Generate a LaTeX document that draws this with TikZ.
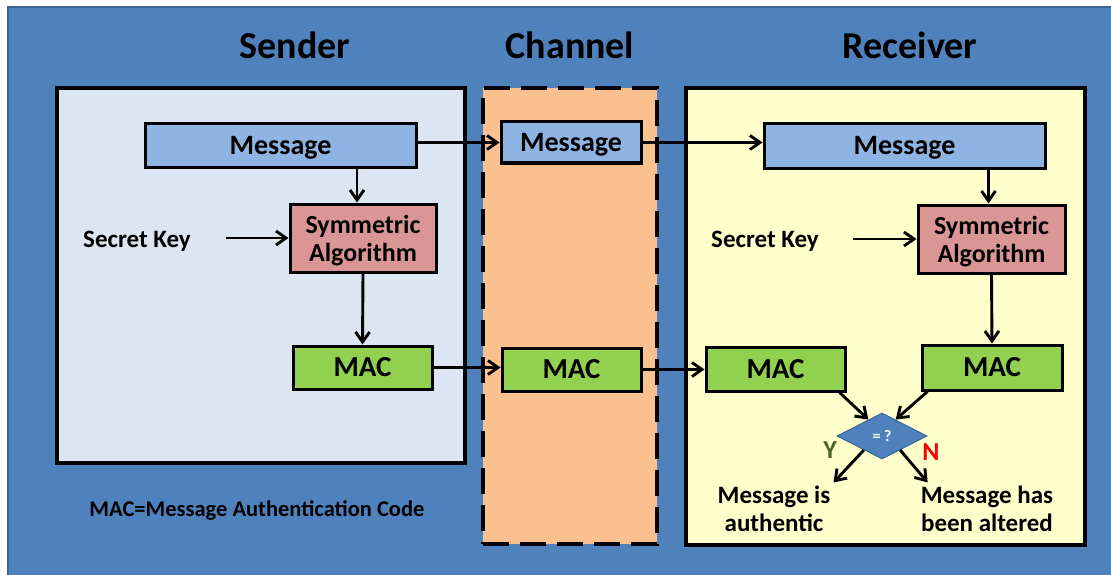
\documentclass[tikz,border=0pt]{standalone}
\usepackage{fontspec}
\setmainfont{Carlito}
\usetikzlibrary{arrows.meta,shapes.geometric,calc}
\definecolor{bgblue}{HTML}{4F81BD}
\definecolor{bgedge}{HTML}{3A6496}
\definecolor{senderfill}{HTML}{DCE6F2}
\definecolor{channelfill}{HTML}{FAC090}
\definecolor{receiverfill}{HTML}{FFFFCC}
\definecolor{msgfill}{HTML}{8EB4E3}
\definecolor{symfill}{HTML}{D99694}
\definecolor{macfill}{HTML}{92D050}
\definecolor{yescol}{HTML}{4F6228}
\begin{document}
\begin{tikzpicture}[x=1pt,y=-1pt,
  panel/.style={draw=black,line width=3.3pt,inner sep=0pt},
  title/.style={font=\fontsize{38}{42}\selectfont\bfseries},
  box/.style={draw=black,line width=3pt,inner sep=0pt,align=center,
    font=\fontsize{26}{28}\selectfont\bfseries},
  msgbox/.style={box,fill=msgfill,font=\fontsize{28}{30}\selectfont\bfseries,
    text height=18pt,text depth=0pt},
  symbox/.style={box,fill=symfill,text height=47pt,text depth=0pt},
  macbox/.style={box,fill=macfill,font=\fontsize{29}{30}\selectfont\bfseries,
    text height=18.7pt,text depth=0pt},
  label/.style={inner sep=1pt,align=center,font=\fontsize{25}{28}\selectfont\bfseries},
  arr/.style={draw=black,line width=2.9pt,-{Straight Barb[length=10pt,width=14pt]}}
]
\useasboundingbox (0,0) rectangle (1111,575);
\fill[white] (0,0) rectangle (1111,575);
% blue backdrop
\draw[draw=bgedge,fill=bgblue,line width=1.5pt] (8,7) rectangle (1125,590);

% column titles
\node[title] (tsender) at (295,45) {Sender};
\node[title] (tchannel) at (570,45) {Channel};
\node[title] (treceiver) at (910,45) {Receiver};

% three panels
\node[panel,fill=senderfill,minimum width=408pt,minimum height=375pt] (sender) at (261,275.5) {};
\node[panel,fill=channelfill,line width=4pt,dash pattern=on 26pt off 11pt,
  minimum width=174pt,minimum height=456pt] (channel) at (570,316) {};
\node[panel,fill=receiverfill,minimum width=399pt,minimum height=457pt] (receiver) at (885.5,316.5) {};

% sender side
\node[msgbox,minimum width=271pt,minimum height=43pt] (smsg) at (280.5,145.5) {Message};
\node[symbox,minimum width=146pt,minimum height=68pt] (ssym) at (363,238) {Symmetric\\Algorithm};
\node[macbox,minimum width=139pt,minimum height=43pt] (smac) at (362.5,367.5) {MAC};
\node[label,text height=16pt,text depth=0pt] (skey1) at (137,239) {Secret Key};
\coordinate (k1) at (226,238);
\node[label,text height=14.5pt,text depth=0pt,font=\fontsize{22.5}{24}\selectfont\bfseries] (legend) at (257,509) {MAC=Message Authentication Code};

% channel
\node[msgbox,minimum width=140pt,minimum height=41pt] (cmsg) at (571,142.5) {Message};
\node[macbox,minimum width=139pt,minimum height=43pt] (cmac) at (571.5,369.5) {MAC};

% receiver side
\node[msgbox,minimum width=281pt,minimum height=44pt] (rmsg) at (904.5,146) {Message};
\node[symbox,minimum width=147pt,minimum height=68pt] (rsym) at (991.5,239) {Symmetric\\Algorithm};
\node[macbox,minimum width=139pt,minimum height=44pt] (rmacl) at (775.5,369) {MAC};
\node[macbox,minimum width=140pt,minimum height=45pt] (rmacr) at (992,367.5) {MAC};
\node[label,text height=16pt,text depth=0pt] (skey2) at (765,239) {Secret Key};
\coordinate (k2) at (853,239);
\node[diamond,draw=bgedge,fill=bgblue,line width=1pt,inner sep=0pt,
  minimum width=90pt,minimum height=46pt,text=white,
  font=\fontsize{16}{18}\selectfont\bfseries] (cmp) at (882,436) {= ?};
\node[font=\fontsize{26}{28}\selectfont\bfseries,text=yescol] (yes) at (830,450) {Y};
\node[font=\fontsize{26}{28}\selectfont\bfseries,text=red] (no) at (931,452) {N};
\node[label] (auth) at (774,508.5) {Message is\\authentic};
\node[label] (alt) at (987,508.5) {Message has\\been altered};

% connectors
\draw[arr] (smsg.east |- cmsg.west) -- (cmsg.west);
\draw[arr] (cmsg.east) -- (rmsg.west |- cmsg.east);
\draw[arr] ([xshift=-6pt]ssym.north |- smsg.south) -- ([xshift=-6pt]ssym.north);
\draw[arr] (k1) -- (ssym.west |- k1);
\draw[arr] (ssym.south) -- (smac.north);
\draw[arr] (smac.east) -- (cmac.west |- smac.east);
\draw[arr] (cmac.east) -- (rmacl.west |- cmac.east);
\draw[arr] ([xshift=-3pt]rsym.north |- rmsg.south) -- ([xshift=-3pt]rsym.north);
\draw[arr] (k2) -- (rsym.west |- k2);
\draw[arr] (rsym.south) -- (rmacr.north);
\draw[arr] ([xshift=-7pt]rmacl.south east) -- ($(cmp.north)!0.3!(cmp.west)$);
\draw[arr] ([xshift=7pt]rmacr.south west) -- ($(cmp.north)!0.3!(cmp.east)$);
\draw[arr] ($(cmp.south)!0.4!(cmp.west)$) -- ([xshift=2pt,yshift=2pt]auth.north east);
\draw[arr] ($(cmp.south)!0.4!(cmp.east)$) -- ([xshift=8pt,yshift=2pt]alt.north west);
\end{tikzpicture}
\end{document}
